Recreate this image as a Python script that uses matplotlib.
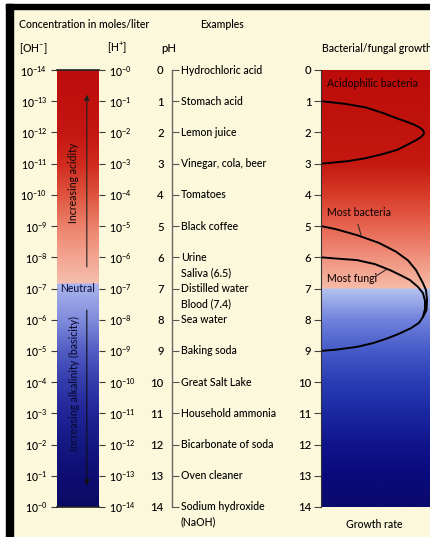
import matplotlib
matplotlib.use("Agg")
import matplotlib.pyplot as plt
import numpy as np
from matplotlib.patches import Rectangle

plt.rcParams['font.family'] = ['Lato', 'DejaVu Sans']
plt.rcParams['font.weight'] = 'medium'
plt.rcParams['mathtext.fontset'] = 'custom'
plt.rcParams['mathtext.rm'] = 'Lato'
plt.rcParams['mathtext.it'] = 'Lato:italic'
plt.rcParams['mathtext.bf'] = 'Lato:bold'

# ---- data ----
ph_ticks = list(range(0, 15))
oh_labels = [r'$10^{-%d}$' % (14 - p) for p in ph_ticks]
h_labels = [r'$10^{-%d}$' % p for p in ph_ticks]

example_ph = [0, 1, 2, 3, 4, 5, 6, 6.5, 7, 7.5, 8, 9, 10, 11, 12, 13]
example_names = ["Hydrochloric acid", "Stomach acid", "Lemon juice",
                 "Vinegar, cola, beer", "Tomatoes", "Black coffee", "Urine",
                 "Saliva (6.5)", "Distilled water", "Blood (7.4)", "Sea water",
                 "Baking soda", "Great Salt Lake", "Household ammonia",
                 "Bicarbonate of soda", "Oven cleaner"]
last_example = "Sodium hydroxide\n(NaOH)"

acido_ph = [1.00, 1.05, 1.10, 1.20, 1.39, 1.55, 1.65, 1.75, 1.85, 1.93,
            2.00, 2.07, 2.15, 2.25, 2.40, 2.56, 2.70, 2.83, 2.92, 2.97, 3.00]
acido_g = [0.00, 0.15, 0.27, 0.45, 0.63, 0.76, 0.85, 0.93, 0.99, 1.02,
           1.03, 1.025, 1.00, 0.95, 0.86, 0.76, 0.61, 0.44, 0.27, 0.11, 0.00]

bact_ph = [5.00, 5.10, 5.29, 5.54, 5.82, 6.10, 6.41, 6.83, 7.05, 7.37,
           7.69, 7.91, 8.10, 8.27, 8.45, 8.59, 8.75, 8.87, 8.96, 9.00]
bact_g = [0.00, 0.15, 0.36, 0.58, 0.75, 0.87, 0.95, 1.02, 1.05, 1.06,
          1.055, 1.02, 0.98, 0.90, 0.78, 0.67, 0.52, 0.36, 0.15, 0.00]

fungi_ph = [6.00, 6.04, 6.09, 6.22, 6.41, 6.58, 6.73, 6.95, 7.15, 7.40,
            7.65, 7.90]
fungi_g = [0.00, 0.15, 0.36, 0.54, 0.69, 0.80, 0.89, 0.97, 1.02, 1.04,
           1.04, 1.02]

# gradient colour stops (pH, rgb)
bar_stops = [0, 2, 3, 4, 5, 6, 6.83, 6.84, 8, 9, 10, 11, 12, 13, 14]
bar_rgb = [(188, 12, 12), (196, 22, 18), (208, 42, 30), (222, 84, 62),
           (236, 130, 108), (244, 165, 145), (246, 190, 175),
           (172, 182, 236), (128, 140, 220), (82, 92, 196), (52, 60, 172),
           (32, 36, 150), (20, 24, 130), (14, 14, 114), (10, 10, 100)]
panel_stops = [0, 3, 4, 5, 6, 6.99, 7.0, 8, 9, 10, 11, 12, 13, 14]
panel_rgb = [(188, 12, 10), (196, 24, 16), (216, 60, 42), (230, 100, 80),
             (240, 145, 125), (246, 188, 168), (182, 196, 240),
             (112, 130, 220), (70, 90, 200), (42, 60, 180), (26, 40, 160),
             (16, 20, 140), (10, 10, 124), (10, 10, 108)]

W, H = 431, 537
cream = '#fbf8dc'


def rect(x0, y0, x1, y1):
    return [x0 / W, 1 - y1 / H, (x1 - x0) / W, (y1 - y0) / H]


def gradient(stops, rgb):
    ph = np.linspace(0, 14, 700)
    arr = np.array(rgb) / 255.0
    cols = np.stack([np.interp(ph, stops, arr[:, i]) for i in range(3)], axis=1)
    return cols[:, None, :]


fig = plt.figure(figsize=(W / 100, H / 100), dpi=100, facecolor=cream)

# frame
fig.add_artist(Rectangle((0, 1 - 4 / H), 1, 4 / H, transform=fig.transFigure,
                         color='white', zorder=0))
fig.add_artist(Rectangle((0, 0), 6 / W, 1, transform=fig.transFigure,
                         color='white', zorder=0))
fig.add_artist(Rectangle((6 / W, 1 - 9 / H), 1, 5 / H, transform=fig.transFigure,
                         color='black', zorder=1))
fig.add_artist(Rectangle((6 / W, 0), 7 / W, 1 - 4 / H, transform=fig.transFigure,
                         color='black', zorder=1))

fs = 7.6
tick_col = '#3a3a3a'

# ---- concentration bar ----
ax = fig.add_axes(rect(57, 70, 99, 507))
ax.imshow(gradient(bar_stops, bar_rgb), extent=(0, 1, 14, 0), aspect='auto')
ax.set_xlim(0, 1)
ax.set_ylim(14, 0)
ax.set_xticks([])
ax.set_yticks(ph_ticks, oh_labels)
ax.tick_params(axis='y', direction='out', length=4, width=0.8, color=tick_col,
               pad=3, labelsize=fs)
for s in ['left', 'right']:
    ax.spines[s].set_visible(False)
for s in ['top', 'bottom']:
    ax.spines[s].set_color('#222222')
    ax.spines[s].set_linewidth(1.2)
ax2 = ax.twinx()
ax2.set_ylim(14, 0)
ax2.set_yticks(ph_ticks, h_labels)
ax2.tick_params(axis='y', direction='out', length=4, width=0.8, color=tick_col,
                pad=3, labelsize=fs)
for s in ['left', 'right', 'top', 'bottom']:
    ax2.spines[s].set_visible(False)

ax.text(0.5, 7, "Neutral", ha='center', va='center', fontsize=fs,
        color='#16164a')
ax.annotate("", xy=(0.71, 0.7), xytext=(0.71, 6.4),
            arrowprops=dict(arrowstyle='-|>', color='#202020', lw=0.8,
                            mutation_scale=8))
ax.annotate("", xy=(0.71, 13.4), xytext=(0.71, 7.6),
            arrowprops=dict(arrowstyle='-|>', color='#101010', lw=0.8,
                            mutation_scale=8))
ax.text(0.4, 3.6, "Increasing acidity", rotation=90, ha='center',
        va='center', fontsize=fs, color='#1a0a0a')
ax.text(0.42, 10.05, "Increasing alkalinity (basicity)", rotation=90,
        ha='center', va='center', fontsize=fs, color='#0a0a30')

# ---- pH / examples ----
axp = fig.add_axes(rect(172, 70, 300, 507))
axp.set_facecolor('none')
axp.set_xlim(0, 128)
axp.set_ylim(14, 0)
axp.set_xticks([])
axp.set_yticks(ph_ticks, [str(p) for p in ph_ticks])
axp.tick_params(axis='y', direction='in', length=5, width=0.8, color='#555555',
                pad=6, labelsize=8.2)
for s in ['top', 'right', 'bottom']:
    axp.spines[s].set_visible(False)
axp.spines['left'].set_color('#666666')
axp.spines['left'].set_linewidth(1.0)
for p, name in zip(example_ph, example_names):
    axp.text(9, p, name, ha='left', va='center', fontsize=fs)
axp.text(9, 13.8, last_example, ha='left', va='top', fontsize=fs,
         linespacing=1.45)

# ---- growth panel ----
axg = fig.add_axes(rect(321, 70, 431, 507))
axg.imshow(gradient(panel_stops, panel_rgb), extent=(0, 1.10, 14, 0),
           aspect='auto')
axg.set_xlim(0, 1.10)
axg.set_ylim(14, 0)
axg.set_xticks([])
axg.set_yticks(ph_ticks, [str(p) for p in ph_ticks])
axg.tick_params(axis='y', direction='out', length=5, width=0.8, color='#444444',
                pad=2, labelsize=8.2)
for s in ['top', 'right', 'bottom']:
    axg.spines[s].set_visible(False)
axg.spines['left'].set_color('#333333')
axg.spines['left'].set_linewidth(0.8)
axg.plot(acido_g, acido_ph, color='black', lw=1.4, solid_joinstyle='round')
axg.plot(bact_g, bact_ph, color='black', lw=1.4, solid_joinstyle='round')
axg.plot(fungi_g, fungi_ph, color='black', lw=1.4, solid_joinstyle='round')
axg.text(0.06, 0.42, "Acidophilic bacteria", ha='left', va='center',
         fontsize=fs, color='#1a0505')
axg.text(0.06, 4.58, "Most bacteria", ha='left', va='center', fontsize=fs,
         color='#1a0505')
axg.text(0.06, 6.67, "Most fungi", ha='left', va='center', fontsize=fs,
         color='#1a0505')
axg.plot([0.37, 0.40], [4.95, 5.28], color='#222222', lw=0.7)
axg.plot([0.54, 0.66], [6.62, 6.38], color='#222222', lw=0.7)


# ---- headings ----
def ftext(x, y, s, size=fs, **kw):
    fig.text(x / W, 1 - y / H, s, fontsize=size, va='center', **kw)


ftext(19, 25, "Concentration in moles/liter")
ftext(200, 25, "Examples")
ftext(19, 48, r"[OH$^{-}$]")
ftext(107, 48, r"[H$^{+}$]")
ftext(161, 49, "pH", size=8.2)
ftext(322, 49, "Bacterial/fungal growth")
ftext(374, 525, "Growth rate", ha='center')

fig.savefig("out.png", dpi=100, facecolor=cream)
